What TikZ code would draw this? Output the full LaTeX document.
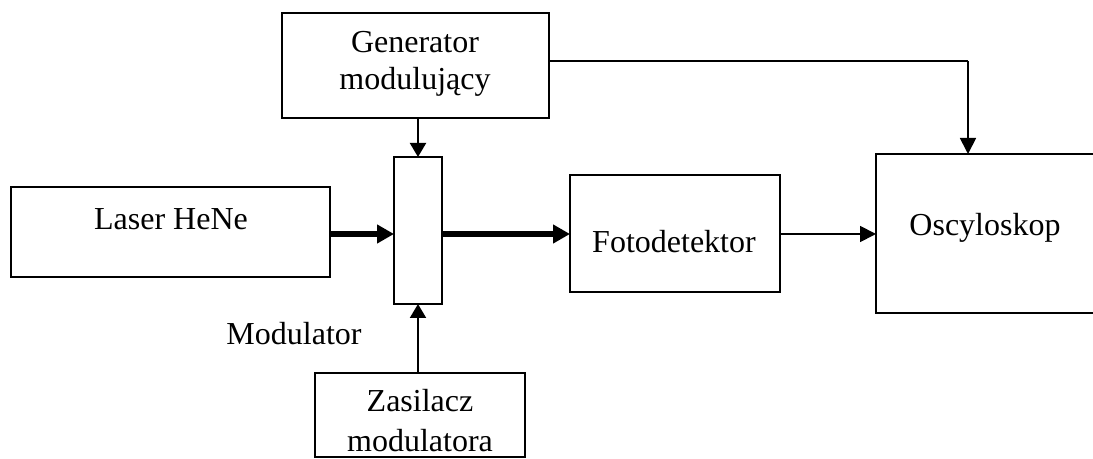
\documentclass[tikz,border=0pt]{standalone}
\usepackage{fontspec}
\setmainfont{Liberation Serif}
\usetikzlibrary{arrows.meta}
\begin{document}
\begin{tikzpicture}[x=0.5pt,y=-0.5pt,
  box/.style={draw,line width=1.2pt,inner sep=0pt,outer sep=0pt,rectangle},
  lbl/.style={anchor=base,inner sep=0pt,font=\fontsize{16}{18.5}\selectfont},
  beam/.style={line width=3pt,-{Triangle[length=8.5pt,width=9pt]}},
  sig/.style={line width=0.9pt,-{Triangle[length=8pt,width=8pt]}},
  feed/.style={line width=1pt,-{Triangle[length=7pt,width=8pt]}},
  wire/.style={line width=0.7pt}]
\useasboundingbox (0,0) rectangle (1093,459);

% blocks
\node[box,minimum width=133.5pt,minimum height=52.5pt] (gen) at (415.5,65.5) {};
\node[box,minimum width=159.5pt,minimum height=45pt] (laser) at (170.5,232) {};
\node[box,minimum width=24pt,minimum height=73.5pt] (mod) at (418,230.5) {};
\node[box,minimum width=105pt,minimum height=58.5pt] (foto) at (675,233.5) {};
\node[box,minimum width=105pt,minimum height=42pt] (zas) at (420,415) {};
\begin{scope}
  \clip (0,0) rectangle (1093,459);
  \node[box,minimum width=122pt,minimum height=79.5pt] (osc) at (998,233.5) {};
\end{scope}

% texts
\node[lbl] (tgen1) at (415,53) {Generator};
\node[lbl] (tgen2) at (415,90) {modulujący};
\node[lbl] (tlaser) at (171,230) {Laser HeNe};
\node[lbl] (tfoto) at (674,253) {Fotodetektor};
\node[lbl] (tosc) at (985,236) {Oscyloskop};
\node[lbl] (tzas1) at (420,412) {Zasilacz};
\node[lbl] (tzas2) at (420,452) {modulatora};
\node[lbl] (tmod) at (294,345) {Modulator};

% optical path and signals
\coordinate (axis) at (0,234);
\coordinate (tap) at (968,61);
\draw[beam] (laser.east |- axis) -- (mod.west |- axis);
\draw[beam] (mod.east |- axis) -- (foto.west |- axis);
\draw[sig] (foto.east |- axis) -- (osc.west |- axis);
\draw[feed] (mod.north |- gen.south) -- (mod.north);
\draw[feed] (mod.south |- zas.north) -- (mod.south);
\draw[wire] (gen.east |- tap) -- (tap);
\draw[sig] (tap) -- (tap |- osc.north);
\end{tikzpicture}
\end{document}
